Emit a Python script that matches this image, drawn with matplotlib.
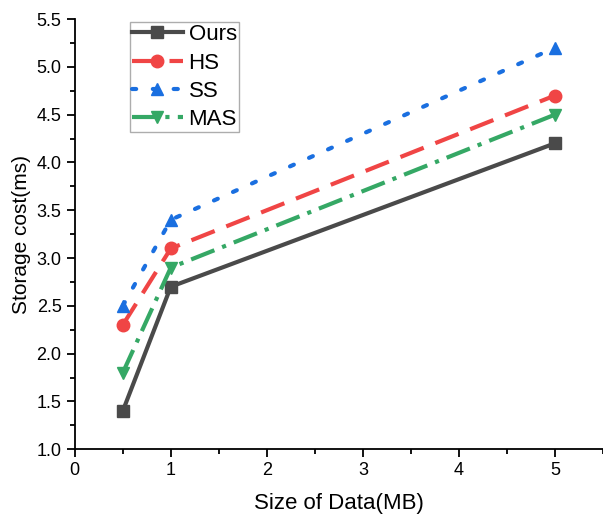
import matplotlib
matplotlib.use("Agg")
import matplotlib.pyplot as plt
from matplotlib.ticker import MultipleLocator

plt.rcParams['font.family'] = ['Liberation Sans', 'DejaVu Sans']

x = [0.5, 1, 5]
ours = [1.4, 2.7, 4.2]
hs = [2.3, 3.1, 4.7]
ss = [2.5, 3.4, 5.2]
mas = [1.8, 2.9, 4.5]
labels = ["Ours", "HS", "SS", "MAS"]

fig = plt.figure(figsize=(6.03, 5.14), dpi=100)
ax = fig.add_axes([0.124, 0.126, 0.876, 0.837])

ax.plot(x, ours, color='#4a4a4a', lw=3, marker='s', ms=8, linestyle='-', label=labels[0])
ax.plot(x, hs, color='#f04545', lw=3, marker='o', ms=9, linestyle=(0, (6, 3)), label=labels[1])
ax.plot(x, ss, color='#1a6fe0', lw=3, marker='^', ms=9, linestyle=(0, (1, 4)), dash_capstyle='round', label=labels[2])
ax.plot(x, mas, color='#35a865', lw=3, marker='v', ms=9, linestyle=(0, (6, 2, 1, 2)), label=labels[3])

ax.set_xlim(0, 5.5)
ax.set_ylim(1.0, 5.5)
ax.xaxis.set_major_locator(MultipleLocator(1))
ax.xaxis.set_minor_locator(MultipleLocator(0.5))
ax.yaxis.set_major_locator(MultipleLocator(0.5))
ax.yaxis.set_minor_locator(MultipleLocator(0.25))
ax.yaxis.set_major_formatter(matplotlib.ticker.FormatStrFormatter('%.1f'))
ax.spines['top'].set_visible(False)
ax.spines['right'].set_visible(False)
ax.spines['left'].set_linewidth(1.3)
ax.spines['bottom'].set_linewidth(1.3)
ax.tick_params(which='major', direction='out', length=6, width=1.3, labelsize=13)
ax.tick_params(which='minor', direction='out', length=3.5, width=1.3)

ax.set_xlabel("Size of Data(MB)", fontsize=16, labelpad=10)
ax.set_ylabel("Storage cost(ms)", fontsize=15)

leg = ax.legend(loc='upper left', bbox_to_anchor=(0.104, 0.993), borderaxespad=0,
                fontsize=16, frameon=True,
                fancybox=False, edgecolor='#999999', handlelength=2.3, handletextpad=0.25,
                labelspacing=0.33, borderpad=0.1)
leg.get_frame().set_linewidth(1.0)

fig.savefig("out.png", dpi=100)
